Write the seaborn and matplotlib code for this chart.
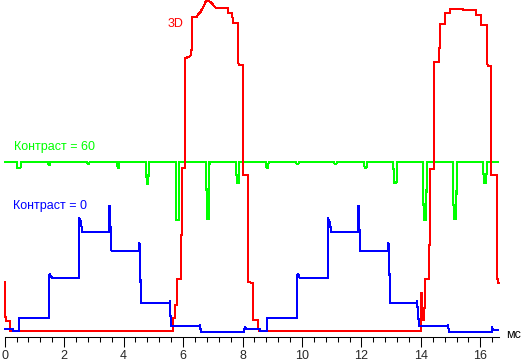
import pandas as pd
import matplotlib.pyplot as plt
import seaborn as sns

# time in ms, level in arbitrary brightness units (0 = black)
red_t = [0.00, 0.01, 0.04, 0.04, 0.18, 0.18, 5.66, 5.66, 5.72, 5.72, 5.79, 5.79,
         5.93, 5.93, 5.98, 5.98, 6.06, 6.06, 6.20, 6.27, 6.27, 6.31, 6.31, 6.47,
         6.50, 6.57, 6.64, 6.70, 6.74, 6.77, 6.84, 6.91, 6.97, 7.04, 7.11, 7.51,
         7.51, 7.65, 7.68, 7.85, 7.85, 7.88, 8.02, 8.02, 8.18, 8.18, 8.35, 8.35,
         8.52, 8.52, 8.56, 13.99, 13.99, 14.04, 14.04, 14.10, 14.10, 14.13, 14.13,
         14.27, 14.27, 14.31, 14.31, 14.44, 14.44, 14.61, 14.61, 14.64, 14.64,
         14.81, 14.81, 14.98, 14.98, 15.85, 15.85, 16.02, 16.02, 16.22, 16.22,
         16.26, 16.36, 16.36, 16.56, 16.56, 16.59, 16.63]
red_v = [49, 14, 14, 10, 10, 0, 0, 13, 13, 26, 26, 52,
         52, 96, 96, 163, 163, 273, 274, 276, 281, 281, 314, 314,
         317, 318, 322, 325, 328, 330, 331, 329, 328, 325, 323, 323,
         318, 318, 308, 308, 269, 266, 266, 156, 156, 49, 48, 11,
         11, 3, 0, 0, 38, 38, 11, 11, 23, 23, 52,
         52, 86, 86, 162, 162, 269, 269, 283, 283, 307,
         307, 318, 318, 322, 321, 316, 316, 306, 306, 269,
         265, 265, 156, 156, 58, 48, 48]

blue_t = [0.00, 0.28, 0.28, 0.48, 0.48, 1.49, 1.49, 1.52, 1.59, 2.50, 2.50, 2.57,
          2.60, 3.51, 3.51, 3.54, 3.58, 3.61, 4.52, 4.52, 4.55, 4.58, 5.56, 5.56,
          5.59, 6.57, 6.57, 6.60, 8.05, 8.08, 8.12, 8.59, 8.59, 8.82, 8.82, 9.83,
          9.83, 9.87, 9.93, 10.87, 10.87, 10.94, 10.98, 11.88, 11.88, 11.92, 11.95,
          12.89, 12.89, 12.93, 12.96, 13.87, 13.87, 13.94, 14.91, 14.91, 14.95,
          16.39, 16.39, 16.43, 16.59]
blue_v = [2, 2, 0, 0, 13, 13, 56, 57, 53, 53, 113, 109,
          99, 99, 125, 125, 81, 80, 80, 88, 86, 28, 28, 30,
          5, 5, 6, -1, -1, 4, 2, 2, 0, 0, 13, 13,
          56, 57, 53, 53, 113, 109, 99, 99, 125, 125, 80,
          80, 88, 86, 28, 28, 30, 5, 5, 6, -1,
          -1, 4, 1, 1]

green_t = [0.00, 0.41, 0.43, 0.53, 0.55,
           1.46, 1.48, 1.52, 1.54,
           2.77, 2.79, 2.84, 2.86,
           3.78, 3.80, 3.84, 3.86,
           4.75, 4.76, 4.78, 4.83, 4.85,
           5.76, 5.77, 5.85, 5.87,
           6.77, 6.78, 6.81, 6.87, 6.89,
           7.78, 7.79, 7.81, 7.87, 7.89,
           8.79, 8.81, 8.86, 8.88,
           9.80, 9.82, 9.88, 9.90,
           11.08, 11.10, 11.16, 11.18,
           12.09, 12.11, 12.17, 12.19,
           13.06, 13.08, 13.10, 13.18, 13.20,
           14.07, 14.08, 14.10, 14.18, 14.20,
           15.08, 15.09, 15.12, 15.19, 15.21,
           16.09, 16.10, 16.12, 16.20, 16.22,
           16.59]
green_v = [169, 169, 163, 163, 169,
           169, 166, 166, 169,
           169, 167, 167, 169,
           169, 163, 163, 169,
           169, 162, 147, 147, 169,
           169, 111, 111, 169,
           169, 154, 112, 112, 169,
           169, 162, 148, 148, 169,
           169, 163, 163, 169,
           169, 167, 167, 169,
           169, 167, 167, 169,
           169, 163, 163, 169,
           169, 162, 148, 148, 169,
           169, 139, 111, 111, 169,
           169, 131, 112, 112, 169,
           169, 162, 148, 148, 169,
           169]

x_ticks = [0, 2, 4, 6, 8, 10, 12, 14, 16]

sns.set_theme(style="white")
plt.rcParams['font.family'] = ['Liberation Sans', 'DejaVu Sans']

fig = plt.figure(figsize=(5.22, 3.61), dpi=100)
ax = fig.add_axes([0.009, 0.0665, 0.947, 0.9335])

# green under red, blue on top
series = [(green_t, green_v, "#00ff00"), (red_t, red_v, "#ff0000"), (blue_t, blue_v, "#0000ff")]
for t, v, c in series:
    df = pd.DataFrame({"t": t, "v": v})
    sns.lineplot(data=df, x="t", y="v", color=c, estimator=None, sort=False,
                 linewidth=0.75, antialiased=False, clip_on=False, ax=ax)

ax.set_xlim(0, 16.63)
ax.set_ylim(-6, 331)
ax.set_xticks(x_ticks)
ax.set_xticks([i * 0.4 for i in range(42)], minor=True)
ax.set_yticks([])
ax.set_xlabel(None)
ax.set_ylabel(None)
for s in ["left", "top", "right"]:
    ax.spines[s].set_visible(False)
ax.spines["bottom"].set_color("black")
ax.spines["bottom"].set_linewidth(0.75)
ax.tick_params(axis="x", which="major", direction="out", length=7.2, width=0.75,
               color="black", labelsize=9, pad=2.5, bottom=True)
ax.tick_params(axis="x", which="minor", direction="out", length=3.6, width=0.75,
               color="black", bottom=True)

ax.text(5.49, 307, "3D", color="#ff0000", fontsize=9, ha="left", va="center")
ax.text(0.31, 184, "Контраст = 60", color="#00ff00", fontsize=9, ha="left", va="center")
ax.text(0.28, 125, "Контраст = 0", color="#0000ff", fontsize=9, ha="left", va="center")
ax.text(17.13, -4, "мс", color="black", fontsize=9, ha="center", va="center", clip_on=False)

fig.savefig("out.png", dpi=100)
